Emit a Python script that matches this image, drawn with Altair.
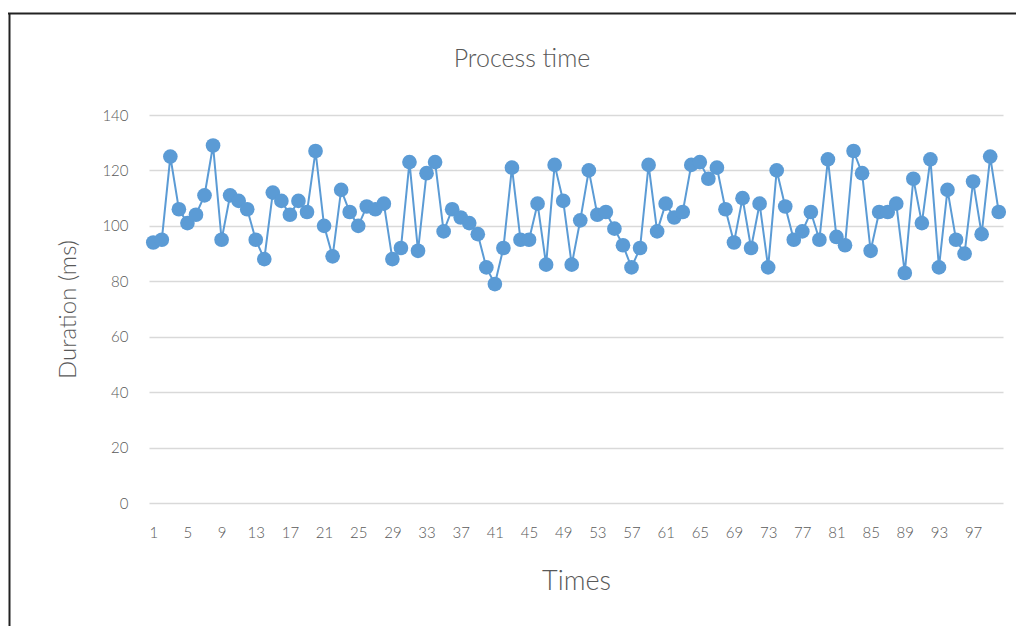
import altair as alt
import pandas as pd

times = list(range(1, 101))
durations = [
    94, 95, 125, 106, 101, 104, 111, 129, 95, 111,
    109, 106, 95, 88, 112, 109, 104, 109, 105, 127,
    100, 89, 113, 105, 100, 107, 106, 108, 88, 92,
    123, 91, 119, 123, 98, 106, 103, 101, 97, 85,
    79, 92, 121, 95, 95, 108, 86, 122, 109, 86,
    102, 120, 104, 105, 99, 93, 85, 92, 122, 98,
    108, 103, 105, 122, 123, 117, 121, 106, 94, 110,
    92, 108, 85, 120, 107, 95, 98, 105, 95, 124,
    96, 93, 127, 119, 91, 105, 105, 108, 83, 117,
    101, 124, 85, 113, 95, 90, 116, 97, 125, 105,
]
x_tick_labels = list(range(1, 101, 4))
y_ticks = [0, 20, 40, 60, 80, 100, 120, 140]
chart_title = "Process time"

df = pd.DataFrame({"Times": times, "Duration": durations})

FONT = "Lato"
GRAY = "#595959"
BLUE = "#5b9bd5"

base = alt.Chart(df).encode(
    x=alt.X(
        "Times:O",
        title="Times",
        sort=None,
        axis=alt.Axis(
            values=x_tick_labels,
            labelAngle=0,
            labelFont=FONT,
            labelFontSize=15,
            labelFontWeight=300,
            labelColor=GRAY,
            labelPadding=22,
            ticks=False,
            domain=False,
            grid=False,
            titleFont=FONT,
            titleFontSize=27,
            titleFontWeight=300,
            titleColor=GRAY,
            titlePadding=28,
        ),
    ),
    y=alt.Y(
        "Duration:Q",
        title="Duration (ms)",
        scale=alt.Scale(domain=[0, 140], nice=False),
        axis=alt.Axis(
            values=y_ticks,
            labelFont=FONT,
            labelFontSize=15,
            labelFontWeight=300,
            labelColor=GRAY,
            labelPadding=21,
            ticks=False,
            domain=False,
            grid=True,
            gridColor="#d9d9d9",
            gridWidth=1.3,
            titleFont=FONT,
            titleFontSize=24,
            titleFontWeight=300,
            titleColor=GRAY,
            titlePadding=21,
        ),
    ),
)

line = base.mark_line(color=BLUE, strokeWidth=2)
points = base.mark_circle(color=BLUE, size=215, opacity=1)

one_row = pd.DataFrame({"t": [chart_title]})
title_text = alt.Chart(one_row).mark_text(
    font=FONT, fontSize=25, fontWeight=300, color=GRAY,
    align="center", baseline="alphabetic",
).encode(text="t:N", x=alt.value(373), y=alt.value(-48))

frame_top = alt.Chart(one_row).mark_rule(color="#222222", strokeWidth=2).encode(
    x=alt.value(-141), x2=alt.value(867), y=alt.value(-101.5)
)
frame_left = alt.Chart(one_row).mark_rule(color="#222222", strokeWidth=2).encode(
    x=alt.value(-139.5), y=alt.value(-102), y2=alt.value(511)
)

chart = (
    alt.layer(line, points, title_text, frame_top, frame_left)
    .properties(
        width=854,
        height=388,
        autosize=alt.AutoSizeParams(type="none"),
        padding={"left": 141, "top": 107, "right": 13, "bottom": 123},
    )
    .configure(background="white")
    .configure_view(stroke=None)
)

chart.save("out.html", embed_options={"renderer": "svg", "actions": False})
